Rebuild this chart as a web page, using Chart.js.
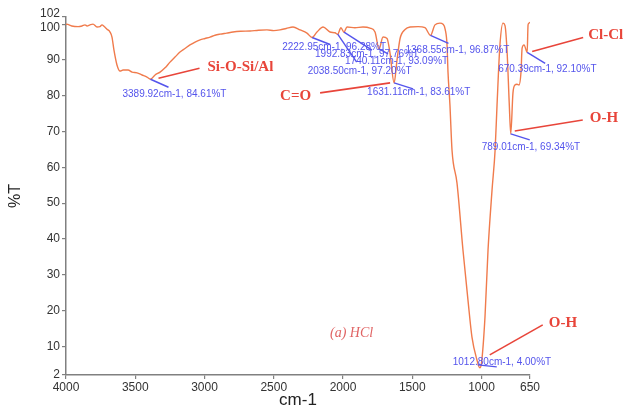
<!DOCTYPE html>
<html>
<head>
<meta charset="utf-8">
<script src="https://cdn.jsdelivr.net/npm/chart.js@4.4.1/dist/chart.umd.min.js"></script>
<style>
  html, body { margin: 0; padding: 0; background: #ffffff; }
  #wrap { width: 625px; height: 409px; }
</style>
</head>
<body>
<div id="wrap"><canvas id="ftir" width="625" height="409"></canvas></div>
<script>
// FTIR spectrum, sample (a) treated with HCl
const wavenumber = [
  4000, 3995, 3959, 3913, 3884, 3863, 3848, 3827, 3805, 3776,
  3755, 3740, 3726, 3704, 3682, 3668, 3654, 3632, 3610, 3588,
  3552, 3523, 3487, 3451, 3415, 3389.92, 3357, 3321, 3285, 3249,
  3213, 3177, 3141, 3105, 3068, 3032, 2996, 2960, 2924, 2888,
  2840, 2794, 2740, 2671, 2610, 2549, 2500, 2455, 2410, 2361,
  2310, 2260, 2222.95, 2188, 2144, 2094, 2058, 2038.50, 2015, 1992.83,
  1971, 1914, 1856, 1805, 1769, 1740.11, 1711, 1682, 1661, 1631.11,
  1610, 1588, 1552, 1516, 1458, 1408, 1368.55, 1336, 1300, 1278,
  1262, 1249, 1242, 1228, 1213, 1177, 1134, 1098, 1069, 1033,
  1012.80, 1000, 975, 953, 924, 902, 888, 867, 845, 830,
  815, 800, 789.01, 773, 759, 744, 729, 715, 707, 693,
  670.39, 664, 657, 650
];
const transmittance = [
  99.8, 100.0, 99.5, 99.3, 99.5, 99.8, 99.5, 99.8, 100.0, 99.2,
  99.3, 99.8, 99.4, 98.6, 97.8, 96.4, 92.8, 88.6, 86.9, 87.2,
  87.2, 86.6, 86.4, 85.8, 85.2, 84.61, 85.8, 86.6, 87.8, 89.4,
  90.8, 92.2, 93.2, 94.2, 95.0, 95.6, 96.0, 96.4, 96.9, 97.2,
  97.5, 97.8, 98.0, 98.1, 98.3, 98.4, 98.2, 98.4, 98.8, 99.2,
  98.4, 97.5, 96.28, 97.8, 99.2, 97.8, 97.6, 97.20, 99.0, 97.76,
  99.2, 99.0, 99.2, 98.9, 97.8, 93.09, 96.4, 96.0, 92.0, 83.61,
  90.0, 96.0, 98.5, 99.2, 99.3, 99.0, 96.87, 99.8, 100.3, 100.0,
  98.5, 94.2, 86.6, 77.4, 64.8, 55.6, 36.9, 23.0, 12.6, 6.2,
  4.00, 5.4, 18.2, 36.9, 53.7, 64.8, 77.4, 94.2, 100.3, 99.5,
  92.0, 78.0, 69.34, 80.8, 83.0, 83.2, 83.0, 86.6, 93.3, 94.2,
  92.10, 99.8, 100.3, 100.5
];

// axis ticks
const xTickValues = [4000, 3500, 3000, 2500, 2000, 1500, 1000, 650];
const yTickValues = [2, 10, 20, 30, 40, 50, 60, 70, 80, 90, 100, 102];

// picked peaks
const peakWavenumber = [3389.92, 2222.95, 2038.50, 1992.83, 1740.11, 1631.11, 1368.55, 1012.80, 789.01, 670.39];
const peakTransmittance = [84.61, 96.28, 97.20, 97.76, 93.09, 83.61, 96.87, 4.00, 69.34, 92.10];

// band assignments: name and the peak (index into peak arrays) it points at
const bandNames = ['Si-O-Si/Al', 'C=O', 'O-H', 'O-H', 'Cl-Cl'];
const bandPeakIndex = [0, 5, 7, 8, 9];

const sampleLabel = '(a) HCl';

// ---- styling / placement (pixels relative to the peak) ----
const SPECTRUM = '#f07b4c';
const BLUE = '#5454ec';
const RED = '#e8453a';
const AXIS = '#808080';

// text: left/middle anchor offset; line: from (a) to (b)
const peakNoteLayout = [
  { text: [-28, 15], a: [0, 0],  b: [18, 8] },
  { text: [-30, 10], a: [0, 0],  b: [18, 7] },
  { text: [-30, 37], a: [0, 0],  b: [19, 28] },
  { text: [-29, 22], a: [0, 0],  b: [28, 18] },
  { text: [-34, 12], a: [0, 0],  b: [9, 5] },
  { text: [-27, 9],  a: [0, 0],  b: [19, 6] },
  { text: [-25, 15], a: [0, 0],  b: [18, 8] },
  { text: [-27, -6], a: [-2, -3], b: [17, -1] },
  { text: [-29, 13], a: [0, 0],  b: [19, 6] },
  { text: [-29, 17], a: [0, 0],  b: [18, 11] }
];
const bandLayout = [
  { text: [57, -12],  a: [8, -1],   b: [49, -11] },
  { text: [-114, 13], a: [-4, 0],   b: [-74, 10] },
  { text: [69, -45],  a: [10, -13], b: [63, -43] },
  { text: [79, -16],  a: [4, -3],   b: [72, -14] },
  { text: [61, -17],  a: [5, -1],   b: [56, -15] }
];
const samplePos = { wn: 2094, t: 13.7 };

const notesPlugin = {
  id: 'peakNotes',
  afterDatasetsDraw(chart) {
    const { ctx } = chart;
    const xs = chart.scales.x, ys = chart.scales.y;
    ctx.save();
    ctx.textAlign = 'left';
    ctx.textBaseline = 'middle';

    // blue peak readouts
    ctx.font = '10px "Liberation Sans", Arial, sans-serif';
    ctx.strokeStyle = BLUE;
    ctx.fillStyle = BLUE;
    ctx.lineWidth = 1.4;
    peakWavenumber.forEach((wn, i) => {
      const t = peakTransmittance[i];
      const px = xs.getPixelForValue(wn);
      const py = ys.getPixelForValue(t);
      const L = peakNoteLayout[i];
      ctx.beginPath();
      ctx.moveTo(px + L.a[0], py + L.a[1]);
      ctx.lineTo(px + L.b[0], py + L.b[1]);
      ctx.stroke();
      ctx.fillText(wn.toFixed(2) + 'cm-1, ' + t.toFixed(2) + '%T', px + L.text[0], py + L.text[1]);
    });

    // red band assignments
    ctx.font = 'bold 15px "Liberation Serif", "Times New Roman", serif';
    ctx.strokeStyle = RED;
    ctx.fillStyle = RED;
    ctx.lineWidth = 1.6;
    bandNames.forEach((name, i) => {
      const k = bandPeakIndex[i];
      const px = xs.getPixelForValue(peakWavenumber[k]);
      const py = ys.getPixelForValue(peakTransmittance[k]);
      const L = bandLayout[i];
      ctx.beginPath();
      ctx.moveTo(px + L.a[0], py + L.a[1]);
      ctx.lineTo(px + L.b[0], py + L.b[1]);
      ctx.stroke();
      ctx.fillText(name, px + L.text[0], py + L.text[1]);
    });

    // sample tag
    ctx.font = 'italic 14px "Liberation Serif", "Times New Roman", serif';
    ctx.fillStyle = '#e06464';
    ctx.fillText(sampleLabel, xs.getPixelForValue(samplePos.wn), ys.getPixelForValue(samplePos.t));
    ctx.restore();
  }
};

new Chart(document.getElementById('ftir'), {
  type: 'line',
  data: {
    datasets: [{
      data: wavenumber.map((w, i) => ({ x: w, y: transmittance[i] })),
      borderColor: SPECTRUM,
      borderWidth: 1.4,
      pointRadius: 0,
      fill: false,
      cubicInterpolationMode: 'monotone'
    }]
  },
  options: {
    responsive: false,
    animation: false,
    devicePixelRatio: 1,
    layout: { padding: { left: 0, right: 95, top: 17, bottom: 0 } },
    plugins: { legend: { display: false }, tooltip: { enabled: false } },
    scales: {
      x: {
        type: 'linear',
        reverse: true,
        min: 650,
        max: 4000,
        afterBuildTicks: s => { s.ticks = xTickValues.map(v => ({ value: v })); },
        afterFit: s => { s.height = 34; },
        border: { color: AXIS, width: 1.5 },
        grid: { drawOnChartArea: false, drawTicks: true, tickLength: 4, color: AXIS, lineWidth: 1.2 },
        ticks: {
          autoSkip: false, maxRotation: 0, padding: 1,
          color: '#333333',
          font: { family: '"Liberation Sans", Arial, sans-serif', size: 12 },
          callback: v => String(v)
        },
        title: {
          display: true, text: 'cm-1', color: '#222222',
          font: { family: '"Liberation Sans", Arial, sans-serif', size: 17, lineHeight: 1 },
          padding: { top: 0, bottom: 0 }
        }
      },
      y: {
        type: 'linear',
        min: 2,
        max: 102,
        afterBuildTicks: s => { s.ticks = yTickValues.map(v => ({ value: v })); },
        afterFit: s => { s.width = 66; },
        border: { color: AXIS, width: 1.5 },
        grid: { drawOnChartArea: false, drawTicks: true, tickLength: 4, color: AXIS, lineWidth: 1.2 },
        ticks: {
          autoSkip: false, padding: 2,
          color: '#333333',
          font: { family: '"Liberation Sans", Arial, sans-serif', size: 12, lineHeight: 0.6 },
          // 100 and 102 sit close together; nudge them apart
          callback: v => v === 102 ? ['102', ''] : (v === 100 ? ['', '100'] : String(v))
        },
        title: {
          display: true, text: '%T', color: '#222222',
          font: { family: '"Liberation Sans", Arial, sans-serif', size: 16 },
          padding: { top: 6, bottom: 0 }
        }
      }
    }
  },
  plugins: [notesPlugin]
});
</script>
</body>
</html>
